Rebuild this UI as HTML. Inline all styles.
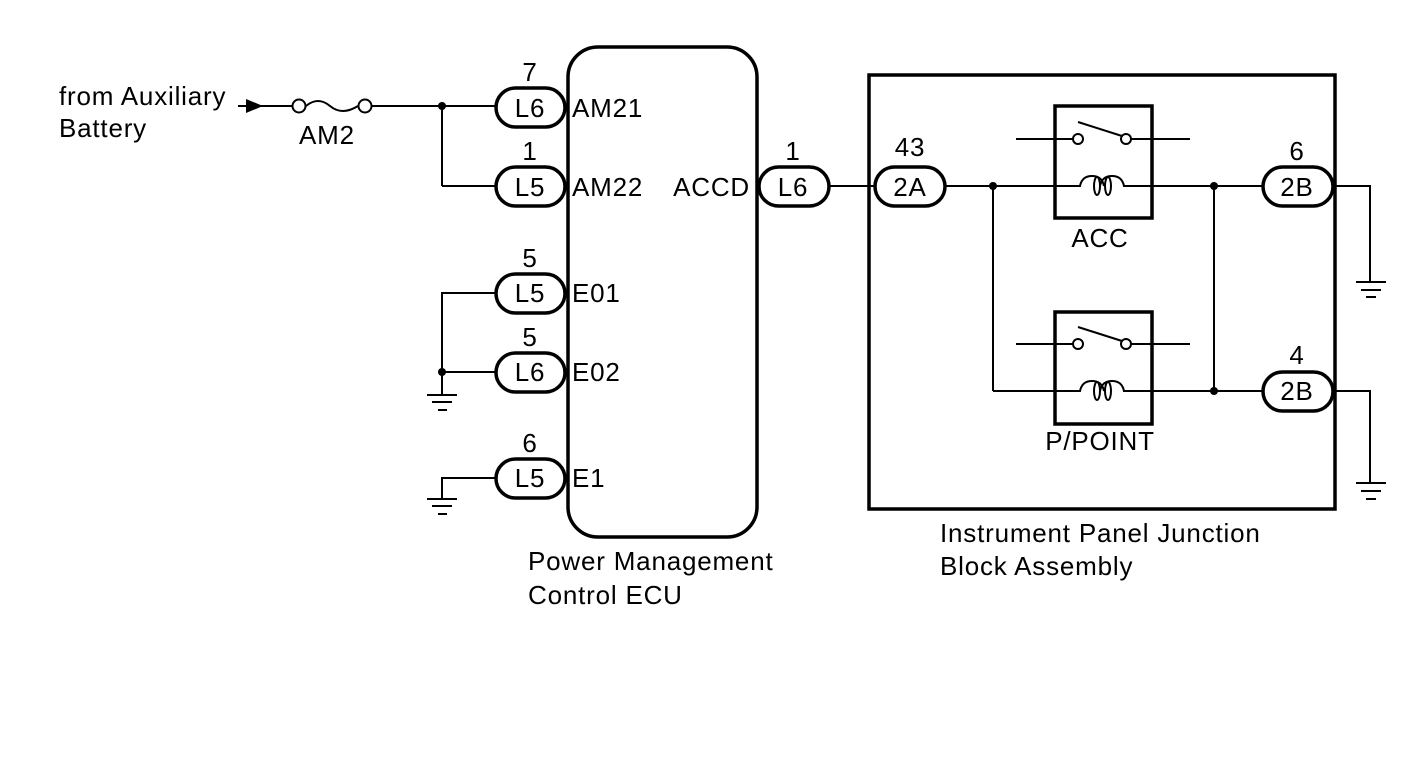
<!DOCTYPE html>
<html><head><meta charset="utf-8"><style>
html,body{margin:0;padding:0;background:#fff;}
svg{display:block;}
text{font-family:"Liberation Sans",Arial,sans-serif;fill:#000;}
</style></head><body>
<svg width="1424" height="759" viewBox="0 0 1424 759" xmlns="http://www.w3.org/2000/svg">
<g fill="none" stroke="#000" stroke-width="2">
  <line x1="238" y1="106" x2="292" y2="106"/>
  <path d="M306 106 Q318 96 330 106 Q342 116 358 106"/>
  <line x1="372" y1="106" x2="496" y2="106"/>
  <line x1="442" y1="106" x2="442" y2="186"/>
  <line x1="442" y1="186" x2="496" y2="186"/>
  <polyline points="496,293 442,293 442,395"/>
  <line x1="442" y1="372" x2="496" y2="372"/>
  <line x1="427" y1="395" x2="457" y2="395"/>
  <line x1="432" y1="402" x2="452" y2="402"/>
  <line x1="438" y1="410" x2="447" y2="410"/>
  <polyline points="496,478 442,478 442,499"/>
  <line x1="427" y1="499" x2="457" y2="499"/>
  <line x1="432" y1="506" x2="452" y2="506"/>
  <line x1="438" y1="514" x2="447" y2="514"/>
  <line x1="829" y1="186" x2="875" y2="186"/>
  <line x1="945" y1="186" x2="1055" y2="186"/>
  <line x1="993" y1="186" x2="993" y2="391"/>
  <line x1="993" y1="391" x2="1055" y2="391"/>
  <line x1="1152" y1="186" x2="1262" y2="186"/>
  <line x1="1152" y1="391" x2="1262" y2="391"/>
  <line x1="1214" y1="186" x2="1214" y2="391"/>
  <polyline points="1335,186 1370,186 1370,282"/>
  <line x1="1356" y1="282" x2="1386" y2="282"/>
  <line x1="1361" y1="290" x2="1381" y2="290"/>
  <line x1="1366" y1="297" x2="1376" y2="297"/>
  <polyline points="1335,391 1370,391 1370,483"/>
  <line x1="1356" y1="483" x2="1386" y2="483"/>
  <line x1="1361" y1="491" x2="1381" y2="491"/>
  <line x1="1366" y1="499" x2="1376" y2="499"/>
  <line x1="1016" y1="139" x2="1073" y2="139"/>
  <line x1="1131" y1="139" x2="1190" y2="139"/>
  <line x1="1078" y1="122" x2="1122" y2="136"/>
  <circle cx="1078" cy="139" r="5" fill="#fff"/>
  <circle cx="1126" cy="139" r="5" fill="#fff"/>
  <path d="M1055 186 H1080 Q1082 176 1092 176 Q1102 176 1104 186 M1100 186 Q1102 176 1112 176 Q1122 176 1124 186 H1152"/>
  <ellipse cx="1097" cy="186" rx="3" ry="9"/>
  <ellipse cx="1108" cy="186" rx="3" ry="9"/>
  <line x1="1016" y1="344" x2="1073" y2="344"/>
  <line x1="1131" y1="344" x2="1190" y2="344"/>
  <line x1="1078" y1="327" x2="1122" y2="341"/>
  <circle cx="1078" cy="344" r="5" fill="#fff"/>
  <circle cx="1126" cy="344" r="5" fill="#fff"/>
  <path d="M1055 391 H1080 Q1082 381 1092 381 Q1102 381 1104 391 M1100 391 Q1102 381 1112 381 Q1122 381 1124 391 H1152"/>
  <ellipse cx="1097" cy="391" rx="3" ry="9"/>
  <ellipse cx="1108" cy="391" rx="3" ry="9"/>
</g>
<g fill="none" stroke="#000" stroke-width="3.5">
  <circle cx="299" cy="106" r="6.5" stroke-width="2" fill="#fff"/>
  <circle cx="365" cy="106" r="6.5" stroke-width="2" fill="#fff"/>
  <rect x="568" y="47" width="189" height="490" rx="30"/>
  <rect x="869" y="75" width="466" height="434"/>
  <rect x="1055" y="106" width="97" height="112"/>
  <rect x="1055" y="312" width="97" height="112"/>
  <g fill="#fff">
    <rect x="496" y="88" width="69" height="39" rx="19.5"/>
    <rect x="496" y="167" width="69" height="39" rx="19.5"/>
    <rect x="496" y="274" width="69" height="39" rx="19.5"/>
    <rect x="496" y="353" width="69" height="39" rx="19.5"/>
    <rect x="496" y="459" width="69" height="39" rx="19.5"/>
    <rect x="759" y="167" width="70" height="39" rx="19.5"/>
    <rect x="875" y="167" width="70" height="39" rx="19.5"/>
    <rect x="1263" y="167" width="70" height="39" rx="19.5"/>
    <rect x="1263" y="372" width="70" height="39" rx="19.5"/>
  </g>
</g>
<g fill="#000">
  <polygon points="246,99 246,113 263,106"/>
  <circle cx="442" cy="106" r="4"/>
  <circle cx="442" cy="372" r="4"/>
  <circle cx="993" cy="186" r="4"/>
  <circle cx="1214" cy="186" r="4"/>
  <circle cx="1214" cy="391" r="4"/>
</g>
<g font-size="26" letter-spacing="0.8">
  <text x="59" y="105">from Auxiliary</text>
  <text x="59" y="137">Battery</text>
  <text x="299" y="144">AM2</text>
  <g text-anchor="middle">
    <text x="530" y="81">7</text>
    <text x="530" y="117">L6</text>
    <text x="530" y="160">1</text>
    <text x="530" y="196">L5</text>
    <text x="530" y="267">5</text>
    <text x="530" y="302">L5</text>
    <text x="530" y="346">5</text>
    <text x="530" y="381">L6</text>
    <text x="530" y="452">6</text>
    <text x="530" y="487">L5</text>
    <text x="793" y="160">1</text>
    <text x="793" y="196">L6</text>
    <text x="910" y="156">43</text>
    <text x="910" y="196">2A</text>
    <text x="1297" y="160">6</text>
    <text x="1297" y="196">2B</text>
    <text x="1297" y="364">4</text>
    <text x="1297" y="400">2B</text>
    <text x="1100" y="247">ACC</text>
    <text x="1100" y="450">P/POINT</text>
  </g>
  <text x="572" y="117">AM21</text>
  <text x="572" y="196">AM22</text>
  <text x="572" y="302">E01</text>
  <text x="572" y="381">E02</text>
  <text x="572" y="487">E1</text>
  <text x="750" y="196" text-anchor="end">ACCD</text>
  <text x="528" y="570">Power Management</text>
  <text x="528" y="604">Control ECU</text>
  <text x="940" y="542">Instrument Panel Junction</text>
  <text x="940" y="575">Block Assembly</text>
</g>
</svg>
</body></html>
